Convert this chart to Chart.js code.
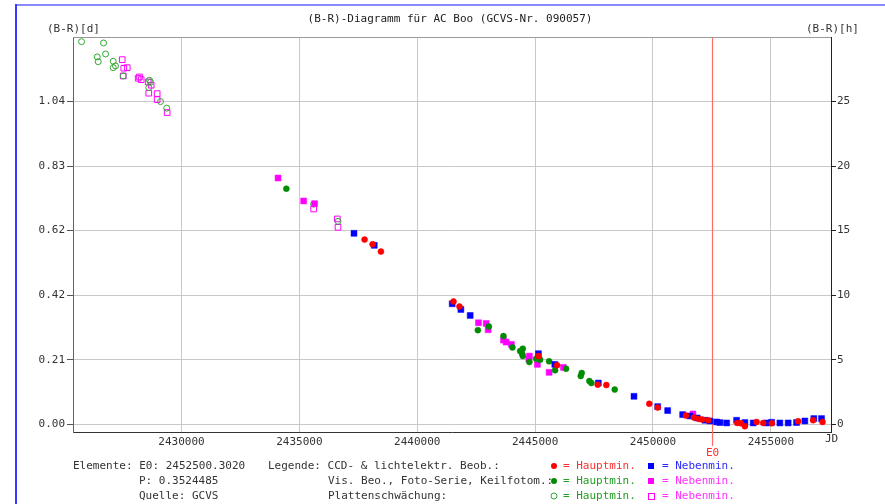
<!DOCTYPE html>
<html><head><meta charset="utf-8">
<script src="https://cdn.jsdelivr.net/npm/chart.js@4/dist/chart.umd.min.js"></script>
<style>html,body{margin:0;padding:0;background:#fff;}#wrap{width:885px;height:504px;position:relative;}</style>
</head><body><div id="wrap"><canvas id="c" width="885" height="504"></canvas></div>
<script>
const TITLE = '(B-R)-Diagramm für AC Boo (GCVS-Nr. 090057)';
const E0 = 2452500.3020;
const xTicks = [2430000, 2435000, 2440000, 2445000, 2450000, 2455000];
const yTicksHours = [0, 5, 10, 15, 20, 25];
const yTickLabelsDays = ['0.00', '0.21', '0.42', '0.62', '0.83', '1.04'];

// CCD & photoelectric, primary minima (red filled circles)
const ccdPrimJD = [2437767,2438106,2438462,2441538,2441792,2445140,2445932,2447656,2448021,2449843,2450199,2451398,2451737,2451949,2452088,2452343,2453571,2453730,2453898,2454393,2454673,2455042,2456156,2456792,2457190];
const ccdPrimOC = [0.5960,0.5809,0.5573,0.3963,0.3802,0.2200,0.1901,0.1279,0.1266,0.0660,0.0538,0.0280,0.0216,0.0171,0.0151,0.0129,0.0042,0.0030,-0.0064,0.0074,0.0042,0.0032,0.0097,0.0129,0.0074];
// CCD & photoelectric, secondary minima (blue filled squares)
const ccdSecJD = [2437318,2438178,2441483,2441851,2442246,2445140,2445834,2447682,2449194,2450199,2450622,2451258,2451568,2451877,2452203,2452415,2452698,2452839,2453123,2453546,2453898,2454250,2454817,2455029,2455381,2455733,2456088,2456441,2456822,2457148];
const ccdSecOC = [0.6163,0.5776,0.3889,0.3705,0.3512,0.2278,0.1933,0.1331,0.0902,0.0570,0.0441,0.0312,0.0267,0.0203,0.0129,0.0106,0.0074,0.0055,0.0042,0.0129,0.0055,0.0042,0.0042,0.0064,0.0042,0.0042,0.0055,0.0106,0.0184,0.0184];
// Visual / photographic series, primary minima (green filled circles)
const visPrimJD = [2434449,2443038,2442572,2443657,2444038,2444478,2444364,2444449,2444478,2444758,2445212,2445042,2445593,2446314,2445847,2446978,2446936,2447301,2447385,2448377];
const visPrimOC = [0.7603,0.3157,0.3038,0.2845,0.2481,0.2439,0.2361,0.2278,0.2200,0.2007,0.2084,0.2117,0.2030,0.1794,0.1740,0.1653,0.1556,0.1395,0.1331,0.1118];
// Visual / photographic series, secondary minima (magenta filled squares)
const visSecJD = [2434097,2435182,2435648,2442597,2442924,2443008,2443657,2443771,2443996,2444758,2444733,2445097,2446199,2445593,2451695];
const visSecOC = [0.7948,0.7207,0.7120,0.3276,0.3254,0.3051,0.2716,0.2651,0.2577,0.2200,0.2104,0.1933,0.1836,0.1675,0.0332];
// Plate estimates, primary minima (green open circles)
const platePrimJD = [2425763,2426695,2426780,2426428,2426470,2427106,2427203,2427106,2427530,2428644,2428686,2428614,2429110,2429377,2435606,2436640];
const platePrimOC = [1.2349,1.2307,1.1952,1.1856,1.1704,1.1717,1.1566,1.1511,1.1243,1.1105,1.1041,1.0867,1.0416,1.0203,0.7104,0.6550];
// Plate estimates, secondary minima (magenta open squares)
const plateSecJD = [2427487,2427555,2427699,2427530,2428220,2428292,2428165,2428589,2428716,2428614,2428970,2428970,2429394,2435606,2436610,2436640];
const plateSecOC = [1.1769,1.1492,1.1511,1.1243,1.1211,1.1124,1.1169,1.1050,1.0944,1.0686,1.0673,1.0480,1.0061,0.6949,0.6627,0.6356];

const FONT = 'DejaVu Sans Mono';
const fnt = {family: FONT, size: 11};
const RED = '#ff0000', BLUE = '#0000ff', GREEN = '#008c00', OGREEN = '#33a833', MAG = '#ff00ff';

function pts(xs, ys) { return xs.map((x, i) => ({x: x, y: ys[i]})); }

const deco = {
  id: 'deco',
  beforeDraw(chart) {
    const ctx = chart.ctx;
    ctx.save();
    ctx.fillStyle = '#fff';
    ctx.fillRect(0, 0, chart.width, chart.height);
    ctx.fillStyle = '#8a8aff';
    ctx.fillRect(16, 4, chart.width - 16, 2);
    ctx.fillStyle = '#3a3aff';
    ctx.fillRect(15, 4, 2, chart.height - 4);
    ctx.restore();
  },
  beforeDatasetsDraw(chart) {
    const ctx = chart.ctx, a = chart.chartArea;
    const x = Math.round(chart.scales.x.getPixelForValue(E0)) + 0.5;
    ctx.save();
    ctx.strokeStyle = '#ff6a6a';
    ctx.lineWidth = 1.2;
    ctx.beginPath();
    ctx.moveTo(x, a.top);
    ctx.lineTo(x, a.bottom + 14);
    ctx.stroke();
    ctx.restore();
  },
  afterDraw(chart) {
    const ctx = chart.ctx, a = chart.chartArea;
    ctx.save();
    // top frame
    ctx.strokeStyle = '#999';
    ctx.lineWidth = 1;
    ctx.beginPath();
    ctx.moveTo(a.left, Math.round(a.top) + 0.5);
    ctx.lineTo(a.right, Math.round(a.top) + 0.5);
    ctx.stroke();
    ctx.font = '11px "' + FONT + '"';
    ctx.textBaseline = 'middle';
    ctx.fillStyle = '#222';
    ctx.textAlign = 'center';
    ctx.fillText(TITLE, 450, 19);
    ctx.textAlign = 'left';
    ctx.fillStyle = '#333';
    ctx.fillText('(B-R)[d]', 47, 29);
    ctx.fillText('(B-R)[h]', 806, 29);
    ctx.fillText('JD', 825, 439);
    ctx.fillStyle = '#ff3030';
    ctx.textAlign = 'center';
    ctx.fillText('E0', Math.round(chart.scales.x.getPixelForValue(E0)) + 0.5, 453);
    ctx.textAlign = 'left';
    ctx.fillStyle = '#333';
    const r1 = 466, r2 = 481, r3 = 496;
    ctx.fillText('Elemente: E0: 2452500.3020', 73, r1);
    ctx.fillText('P: 0.3524485', 139, r2);
    ctx.fillText('Quelle: GCVS', 139, r3);
    ctx.fillText('Legende: CCD- & lichtelektr. Beob.:', 268, r1);
    ctx.fillText('Vis. Beo., Foto-Serie, Keilfotom.:', 328, r2);
    ctx.fillText('Plattenschwächung:', 328, r3);
    // legend markers
    function circ(x, y, col, fill) {
      ctx.beginPath(); ctx.arc(x, y, 3, 0, Math.PI * 2);
      if (fill) { ctx.fillStyle = col; ctx.fill(); } else { ctx.strokeStyle = col; ctx.lineWidth = 1; ctx.stroke(); }
    }
    function sq(x, y, col, fill) {
      if (fill) { ctx.fillStyle = col; ctx.fillRect(x - 3, y - 3, 6, 6); }
      else { ctx.strokeStyle = col; ctx.lineWidth = 1; ctx.strokeRect(x - 2.5, y - 2.5, 6, 6); }
    }
    circ(554, r1, RED, true); sq(651, r1, BLUE, true);
    circ(554, r2, GREEN, true); sq(651, r2, MAG, true);
    circ(554, r3, OGREEN, false); sq(651, r3, MAG, false);
    ctx.fillStyle = '#ff3030'; ctx.fillText('= Hauptmin.', 563, r1);
    ctx.fillStyle = '#2a2aff'; ctx.fillText('= Nebenmin.', 662, r1);
    ctx.fillStyle = '#22a022'; ctx.fillText('= Hauptmin.', 563, r2);
    ctx.fillStyle = '#ff30ff'; ctx.fillText('= Nebenmin.', 662, r2);
    ctx.fillStyle = '#22a022'; ctx.fillText('= Hauptmin.', 563, r3);
    ctx.fillStyle = '#ff30ff'; ctx.fillText('= Nebenmin.', 662, r3);
    ctx.restore();
  }
};

new Chart(document.getElementById('c'), {
  type: 'scatter',
  data: {
    datasets: [
      {label: 'CCD Hauptmin.', data: pts(ccdPrimJD, ccdPrimOC), pointStyle: 'circle', pointRadius: 3, pointBorderWidth: 0.5, backgroundColor: RED, borderColor: RED, order: 0},
      {label: 'CCD Nebenmin.', data: pts(ccdSecJD, ccdSecOC), pointStyle: 'rect', pointRadius: 4.2, pointBorderWidth: 0.5, backgroundColor: BLUE, borderColor: BLUE, order: 1},
      {label: 'Vis Hauptmin.', data: pts(visPrimJD, visPrimOC), pointStyle: 'circle', pointRadius: 3, pointBorderWidth: 0.5, backgroundColor: GREEN, borderColor: GREEN, order: 2},
      {label: 'Vis Nebenmin.', data: pts(visSecJD, visSecOC), pointStyle: 'rect', pointRadius: 4.2, pointBorderWidth: 0.5, backgroundColor: MAG, borderColor: MAG, order: 3},
      {label: 'Platte Hauptmin.', data: pts(platePrimJD, platePrimOC), pointStyle: 'circle', pointRadius: 3, pointBorderWidth: 1, backgroundColor: 'rgba(255,255,255,0)', borderColor: OGREEN, order: 4},
      {label: 'Platte Nebenmin.', data: pts(plateSecJD, plateSecOC), pointStyle: 'rect', pointRadius: 4, pointBorderWidth: 1, backgroundColor: 'rgba(255,255,255,0)', borderColor: MAG, order: 5}
    ]
  },
  options: {
    responsive: false,
    animation: false,
    events: [],
    layout: {padding: {top: 37, left: 0, right: 0, bottom: 0}},
    plugins: {legend: {display: false}, tooltip: {enabled: false}, title: {display: false}},
    scales: {
      x: {
        type: 'linear', position: 'bottom', min: 2425400, max: 2457550,
        afterBuildTicks: s => { s.ticks = xTicks.map(v => ({value: v})); },
        afterFit: s => { s.height = 72; },
        ticks: {callback: v => String(v), font: fnt, color: '#333', padding: 4, maxRotation: 0, autoSkip: false},
        grid: {color: '#c8c8c8', drawTicks: false},
        border: {color: '#333', width: 1}
      },
      y: {
        type: 'linear', position: 'left', min: -0.025, max: 1.25,
        afterBuildTicks: s => { s.ticks = yTicksHours.map(h => ({value: h / 24})); },
        afterFit: s => { s.width = 73; },
        ticks: {callback: (v, i) => yTickLabelsDays[i], font: fnt, color: '#333', padding: 2},
        grid: {color: '#c8c8c8', tickLength: 6, tickColor: '#555'},
        border: {color: '#666', width: 1}
      },
      y2: {
        type: 'linear', position: 'right', min: -0.6, max: 30,
        afterBuildTicks: s => { s.ticks = yTicksHours.map(h => ({value: h})); },
        afterFit: s => { s.width = 54; },
        ticks: {callback: v => String(v), font: fnt, color: '#333', padding: 1},
        grid: {drawOnChartArea: false, tickLength: 5, tickColor: '#222'},
        border: {color: '#222', width: 1}
      }
    }
  },
  plugins: [deco]
});
</script></body></html>
